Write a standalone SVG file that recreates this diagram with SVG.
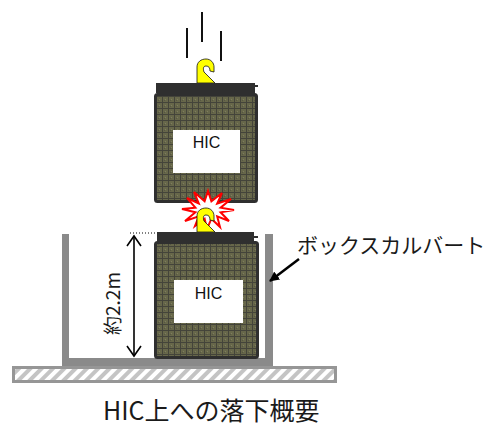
<svg xmlns="http://www.w3.org/2000/svg" width="494" height="428" viewBox="0 0 494 428">
  <defs>
    <style>
      .jp { font-family: "Noto Sans CJK JP", "Noto Sans", sans-serif; fill: #1a1a1a; }
      .lbl { font-family: "Liberation Sans", Arial, sans-serif; font-size: 16px; fill: #111; text-anchor: middle; }
      .lid { fill: #2f2f2f; }
      .body { fill: url(#weave); stroke: #2f2f2f; stroke-width: 3; }
      .card { fill: #ffffff; }
      .hook { fill: #ffff00; stroke: #111; stroke-width: 0.8; stroke-linejoin: round; }
      .wall { fill: #8a8a8a; }
      .motion { stroke: #111; stroke-width: 2; }
    </style>
    <!-- woven steel container surface -->
    <pattern id="weave" width="6" height="6" patternUnits="userSpaceOnUse">
      <rect width="6" height="6" fill="#67674a"/>
      <rect x="0" y="0" width="6" height="1" fill="#44443a"/>
      <rect x="0" y="0" width="1" height="6" fill="#44443a"/>
      <rect x="3" y="3" width="1" height="1" fill="#7e7e5e"/>
      <rect x="2" y="4" width="1" height="1" fill="#565643"/>
    </pattern>
    <!-- ground hatching -->
    <pattern id="hatch" width="8" height="8" patternUnits="userSpaceOnUse" patternTransform="rotate(45)">
      <rect width="8" height="8" fill="#ffffff"/>
      <rect width="4" height="8" fill="#c4c4c4"/>
    </pattern>
    <marker id="solidHead" viewBox="0 0 10 10" refX="9" refY="5" markerWidth="4" markerHeight="4" orient="auto" markerUnits="strokeWidth">
      <path d="M0,0 L10,5 L0,10 Z" fill="#000"/>
    </marker>
    <path id="hookShape" d="M197,83 L197,67 C197,62 201,59 206,59 C211,59 214,63 214,67 L214,72 L210,71 C210,68 209,66 206,66 C203,66 203,69 204,72 L215,83 Z"/>
  </defs>

  <rect width="494" height="428" fill="#ffffff"/>

  <!-- falling motion strokes -->
  <g id="motion-lines">
    <line class="motion" x1="187" y1="28" x2="187" y2="58"/>
    <line class="motion" x1="202" y1="12" x2="202" y2="42"/>
    <line class="motion" x1="221" y1="31" x2="221" y2="61"/>
  </g>

  <!-- ground slab -->
  <g id="ground">
    <rect x="13.5" y="367.5" width="322" height="14" fill="url(#hatch)" stroke="#969696" stroke-width="3"/>
  </g>

  <!-- box culvert (U-section) -->
  <g id="culvert">
    <path class="wall" d="M62,234 L69,234 L69,358 L265,358 L265,234 L273,234 L273,366 L62,366 Z"/>
  </g>

  <!-- falling HIC -->
  <g id="hic-upper">
    <use href="#hookShape" class="hook"/>
    <rect class="lid" x="156" y="83" width="99" height="10"/>
    <rect class="lid" x="254" y="85" width="4" height="2"/>
    <rect class="body" x="155.5" y="94.5" width="101" height="107" rx="2"/>
    <rect class="card" x="173" y="130" width="67" height="43"/>
    <text class="lbl" x="206.5" y="148">HIC</text>
  </g>

  <!-- impact flash -->
  <g id="impact">
    <polygon fill="#ffffff" stroke="#ff0000" stroke-width="2" stroke-linejoin="miter"
      points="208,191 211.4,201.3 222,193 217.2,203.6 231,199 220.6,207.7 234,210 220.6,212.3 229,221 217.2,216.4 220,227 211.4,218.7 207,229 204.6,218.7 195,226 198.8,216.4 185,221 195.4,212.3 182,209 195.4,207.7 187,198 198.8,203.6 194,192 204.6,201.3"/>
    <use href="#hookShape" class="hook" transform="translate(0,149)"/>
  </g>

  <!-- HIC resting in culvert -->
  <g id="hic-lower">
    <line x1="130" y1="233" x2="156" y2="233" stroke="#000" stroke-width="1" stroke-dasharray="1,2"/>
    <rect class="lid" x="157" y="232" width="97" height="9"/>
    <rect class="lid" x="253" y="236" width="5" height="2"/>
    <rect class="body" x="155.5" y="242.5" width="102" height="115" rx="2"/>
    <rect class="card" x="174" y="280" width="69" height="43"/>
    <text class="lbl" x="208.5" y="299">HIC</text>
  </g>

  <g id="connectors">
    <!-- height dimension -->
    <line x1="134" y1="236" x2="134" y2="356" stroke="#000" stroke-width="1.6"/>
    <polyline points="127,246 134,236 141,246" fill="none" stroke="#000" stroke-width="1.6"/>
    <polyline points="127,346 134,356 141,346" fill="none" stroke="#000" stroke-width="1.6"/>
    <!-- culvert leader -->
    <line x1="299" y1="259" x2="270" y2="281" stroke="#000" stroke-width="2.5" marker-end="url(#solidHead)"/>
  </g>

  <g id="labels">
    <text class="jp" font-size="19" transform="translate(120,303.5) rotate(-90)" text-anchor="middle">約2.2m</text>
    <text class="jp" font-size="21" x="297" y="253">ボックスカルバート</text>
    <text class="jp" font-size="25" x="103" y="420">HIC上への落下概要</text>
  </g>
</svg>
